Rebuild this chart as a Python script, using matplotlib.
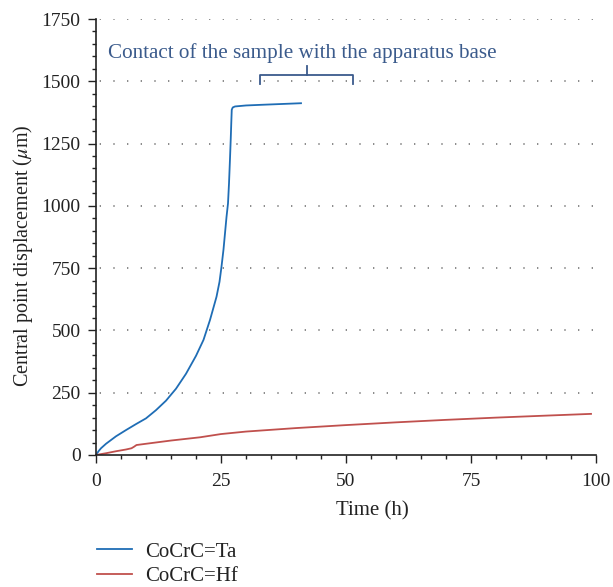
import matplotlib.pyplot as plt
from matplotlib.ticker import MultipleLocator

plt.rcParams['font.family'] = ['Liberation Serif', 'DejaVu Serif']
plt.rcParams['mathtext.fontset'] = 'stix'

# Data
ta_time = [0, 0.5, 1, 2, 4, 6, 8, 10, 12, 14, 15, 16, 18, 20, 21.5, 22.8, 24.1,
           24.7, 25.1, 25.5, 25.8, 26.1, 26.4, 26.6, 26.8, 26.95, 27.05, 27.15,
           27.35, 27.8, 30, 33.5, 41]
ta_disp = [0, 15, 27, 45, 75, 100, 124, 147, 180, 218, 242, 266, 326, 398, 462,
           542, 635, 695, 756, 825, 890, 955, 1010, 1090, 1190, 1270, 1330, 1386,
           1395, 1399, 1403, 1406, 1412]

hf_time = [0, 2, 4, 6, 7.1, 7.6, 8.1, 10, 15, 20.8, 25, 30, 40, 50, 60, 70, 80, 90, 99]
hf_disp = [0, 7, 15, 22, 27, 33, 40, 45, 58, 71, 84, 94, 108, 120, 131, 141,
           150, 158, 165]

labels = ['CoCrC=Ta', 'CoCrC=Hf']
colors = ['#1f6db5', '#c0504d']
note = 'Contact of the sample with the apparatus base'

fig = plt.figure(figsize=(6.13, 5.87), dpi=100)
ax = fig.add_axes([0.1566, 0.2249, 0.8157, 0.7427])

ax.plot(ta_time, ta_disp, color=colors[0], lw=1.3, label=labels[0])
ax.plot(hf_time, hf_disp, color=colors[1], lw=1.3, label=labels[1])

ax.set_xlim(0, 100)
ax.set_ylim(0, 1750)
ax.xaxis.set_major_locator(MultipleLocator(25))
ax.xaxis.set_minor_locator(MultipleLocator(5))
ax.yaxis.set_major_locator(MultipleLocator(250))
ax.yaxis.set_minor_locator(MultipleLocator(50))
ax.tick_params(which='major', length=6, width=1, colors='#222222', labelsize=14, labelcolor='#222222')
ax.tick_params(axis='x', which='major', pad=7)
ax.tick_params(axis='y', which='major', pad=5)
ax.tick_params(which='minor', length=3.2, width=1, colors='#222222')

# dotted horizontal grid
for yv in range(250, 1751, 250):
    ax.axhline(yv, color='#777777', lw=1.2, linestyle=(6, (0.8, 7.4)), zorder=0)

for side in ['top', 'right']:
    ax.spines[side].set_visible(False)
for side in ['left', 'bottom']:
    ax.spines[side].set_linewidth(1.2)
    ax.spines[side].set_color('#222222')

ax.set_xlabel('Time (h)', fontsize=15, color='#222222')
ax.set_ylabel(r'Central point displacement ($\mu$m)', fontsize=14.5, color='#222222')
ax.xaxis.label.set_va('center')
ax.yaxis.label.set_va('center')
ax.xaxis.set_label_coords(0.552, -0.128)
ax.yaxis.set_label_coords(-0.146, 0.4576)

# bracket annotation
note_color = '#3b5b8c'
ax.text(2.4, 1614, note, fontsize=15.2, color=note_color, va='center', ha='left')
ax.plot([32.8, 32.8, 51.4, 51.4], [1490, 1526, 1526, 1490], color=note_color, lw=1.3)
ax.plot([42.2, 42.2], [1526, 1560], color=note_color, lw=1.3)

fig.legend(loc='upper left', bbox_to_anchor=(97 / 613, 1 - 542 / 587),
           bbox_transform=fig.transFigure, frameon=False, borderpad=0, borderaxespad=0,
           fontsize=15, handlelength=1.7, handletextpad=0.6, labelspacing=0.25,
           labelcolor='#222222')

plt.savefig('out.png', dpi=100)
